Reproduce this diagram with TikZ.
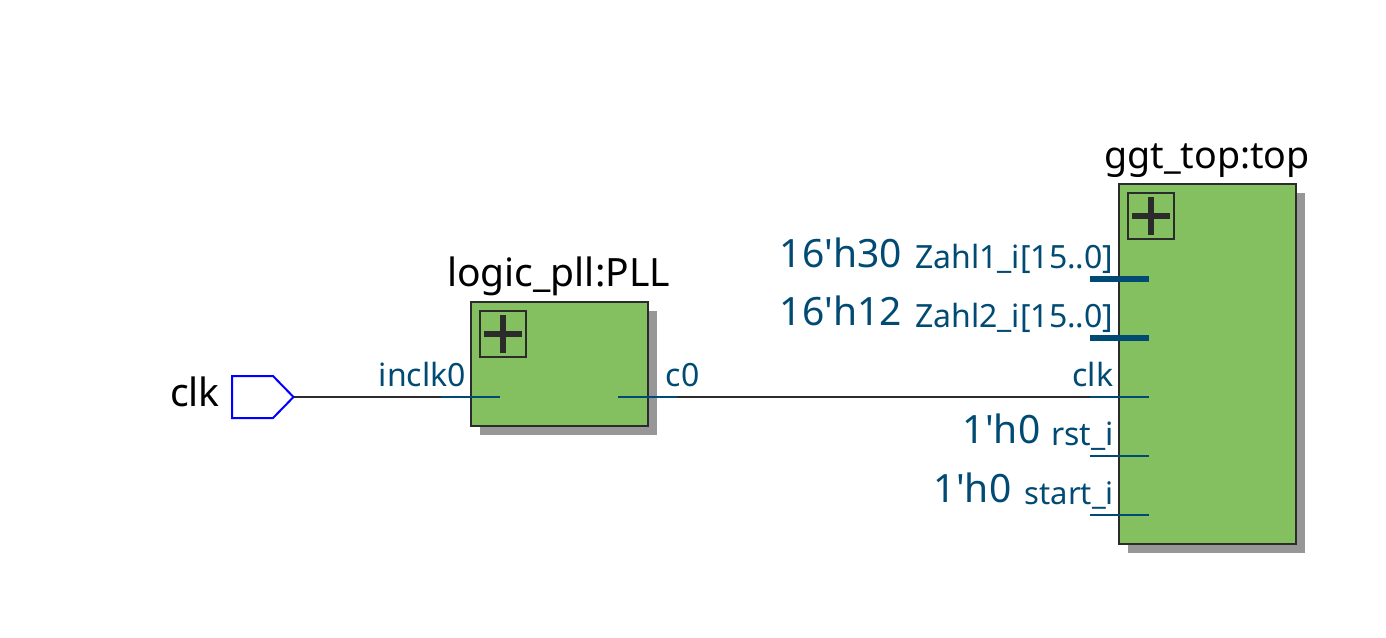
\documentclass[tikz,border=0pt]{standalone}
\usepackage{fontspec}
\newfontfamily\lab{Noto Sans}
\definecolor{wire}{HTML}{2B2B2B}
\definecolor{port}{HTML}{004A73}
\definecolor{green}{HTML}{84BF60}
\definecolor{shade}{HTML}{979797}
\tikzset{
  block/.style={draw=wire,fill=green,line width=2pt,inner sep=0pt},
  shadowbox/.style={fill=shade,inner sep=0pt},
  plusbox/.style={draw=wire,line width=2pt,inner sep=0pt,minimum width=46pt,minimum height=46pt},
  plusbar/.style={draw=wire,line width=6pt},
  wireline/.style={draw=wire,line width=2pt},
  stub/.style={draw=port,line width=2pt},
  bus/.style={draw=port,line width=6pt},
  title/.style={font=\lab\fontsize{39}{39}\selectfont,text=black,inner sep=0pt},
  const/.style={font=\lab\fontsize{39}{39}\selectfont,text=port,inner sep=0pt,anchor=base east},
  portlab/.style={font=\lab\fontsize{32}{32}\selectfont,text=port,inner sep=0pt},
}
\begin{document}
\begin{tikzpicture}[x=1pt,y=-1pt]
\useasboundingbox (0,0) rectangle (1386,637);
% PLL block
\node[shadowbox,minimum width=177pt,minimum height=124pt] (pllshadow) at (568.5,373) {};
\node[block,minimum width=177pt,minimum height=124pt] (pll) at (559.5,364) {};
\node[plusbox] (pllplus) at (503,334) {};
\draw[plusbar] ([xshift=-19pt]pllplus.center) -- ([xshift=19pt]pllplus.center);
\draw[plusbar] ([yshift=-19pt]pllplus.center) -- ([yshift=19pt]pllplus.center);
% top block
\node[shadowbox,minimum width=177pt,minimum height=360pt] (topshadow) at (1216.5,373) {};
\node[block,minimum width=177pt,minimum height=360pt] (top) at (1207.5,363.7) {};
\node[plusbox] (topplus) at (1151,216) {};
\draw[plusbar] ([xshift=-19pt]topplus.center) -- ([xshift=19pt]topplus.center);
\draw[plusbar] ([yshift=-19pt]topplus.center) -- ([yshift=19pt]topplus.center);
% input pin
\draw[draw=blue,line width=2pt,line join=miter] (232,376) -- (273,376) -- (293.5,397) -- (273,418) -- (232,418) -- cycle;
\coordinate (pintip) at (294,397);
% port anchors
\coordinate (pllinout) at (441,397);
\coordinate (pllinin) at (500,397);
\coordinate (pllcin) at (618,397);
\coordinate (pllcout) at (677,397);
\coordinate (clkout) at (1090,397);
\coordinate (clkin) at (1149,397);
\coordinate (zaout) at (1090,279);
\coordinate (zain) at (1149,279);
\coordinate (zbout) at (1090,338);
\coordinate (zbin) at (1149,338);
\coordinate (rstout) at (1090,456);
\coordinate (rstin) at (1149,456);
\coordinate (startout) at (1090,515);
\coordinate (startin) at (1149,515);
% wires
\draw[wireline] (pintip) -- (pllinout);
\draw[wireline] (pllcout) -- (clkout);
\draw[stub] (pllinout) -- (pllinin);
\draw[stub] (pllcin) -- (pllcout);
\draw[stub] (clkout) -- (clkin);
\draw[stub] (rstout) -- (rstin);
\draw[stub] (startout) -- (startin);
\draw[bus] (zaout) -- (zain);
\draw[bus] (zbout) -- (zbin);
% labels
\node[title,anchor=base east] (clklab) at (220,406) {clk};
\node[title,anchor=base west] (plllab) at (447,286) {logic\_pll:PLL};
\node[title,anchor=base west,font=\lab\fontsize{37.6}{37.6}\selectfont] (toplab) at (1104,168) {ggt\_top:top};
\node[portlab,anchor=base east] (inclk) at (466,386.5) {inclk0};
\node[portlab,anchor=base west] (c0) at (665.5,386.5) {c0};
\node[portlab,anchor=base east] (za) at (1113.5,268) {Zahl1\_i[15..0]};
\node[portlab,anchor=base east] (zb) at (1113.5,327) {Zahl2\_i[15..0]};
\node[portlab,anchor=base east] (clkp) at (1113.5,386.5) {clk};
\node[portlab,anchor=base east] (rst) at (1114,445) {rst\_i};
\node[portlab,anchor=base east,font=\lab\fontsize{31}{31}\selectfont] (start) at (1114,504) {start\_i};
\node[const] (c1) at (902,267) {16'h30};
\node[const] (c2) at (902,325) {16'h12};
\node[const] (c3) at (1040.5,443) {1'h0};
\node[const] (c4) at (1011.5,502) {1'h0};
\end{tikzpicture}
\end{document}
